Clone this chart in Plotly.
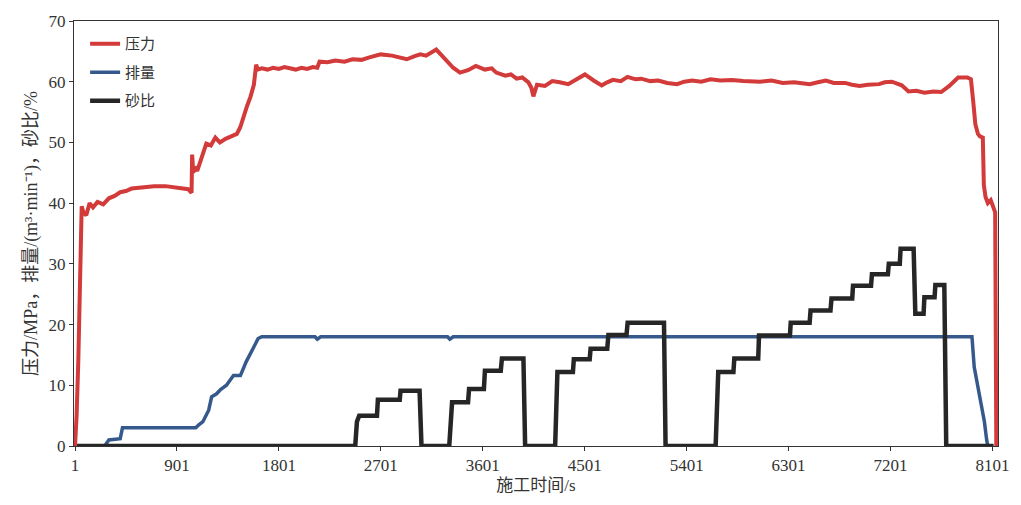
import plotly.graph_objects as go

# ---- data ----
pressure_t = [1, 15, 30, 45, 60, 75, 100, 130, 160, 200, 250, 300, 350, 400, 450, 500, 600, 700, 800, 900,
              1000, 1030, 1035, 1045, 1060, 1080, 1100, 1130, 1160, 1200, 1240, 1280, 1330, 1380, 1430, 1460,
              1490, 1520, 1550, 1580, 1600, 1615, 1650, 1700, 1750, 1800, 1850, 1900, 1950, 2000, 2050, 2100,
              2140, 2160, 2230, 2300, 2380, 2450, 2530, 2600, 2700, 2800, 2870, 2930, 3000, 3050, 3100, 3150,
              3190, 3230, 3280, 3340, 3400, 3470, 3540, 3620, 3680, 3720, 3800, 3850, 3900, 3950, 4004, 4030,
              4048, 4080, 4150, 4215, 4280, 4355, 4430, 4503, 4580, 4651, 4700, 4750, 4820, 4879, 4950, 5000,
              5080, 5150, 5230, 5316, 5380, 5450, 5530, 5612, 5700, 5800, 5900, 6050, 6150, 6250, 6350, 6487,
              6560, 6631, 6700, 6800, 6860, 6928, 7000, 7100, 7150, 7213, 7300, 7360, 7430, 7500, 7580, 7649,
              7720, 7798, 7880, 7911, 7930, 7950, 7973, 7990, 8016, 8025, 8040, 8060, 8086, 8110, 8125, 8135]
pressure_v = [0, 5, 14, 28, 39.5, 38.5, 38, 40, 39.3, 40.2, 39.8, 40.8, 41.2, 41.8, 42, 42.4, 42.6, 42.8, 42.8, 42.6,
              42.3, 41.7, 48, 45, 46, 45.3, 46.5, 48.5, 49.8, 49.5, 50.8, 50, 50.6, 51, 51.4, 52.5,
              54.5, 56, 57.5, 59.5, 62.8, 62, 62.2, 62.0, 62.3, 62.1, 62.4, 62.2, 62.0, 62.3, 62.1, 62.4,
              62.3, 63.3, 63.2, 63.5, 63.3, 63.7, 63.6, 64, 64.5, 64.3, 63.9, 63.7, 64.2, 64.5, 64.3, 64.9,
              65.3, 64.5, 63.4, 62.3, 61.5, 61.9, 62.6, 62, 62.2, 61.5, 61, 61.2, 60.5, 60.7, 59.9, 59,
              57.6, 59.5, 59.3, 60.1, 59.9, 59.6, 60.4, 61.2, 60.2, 59.4, 59.9, 60.3, 60.1, 60.8, 60.4, 60.5,
              60.1, 60.2, 59.8, 59.6, 60.0, 60.2, 60.0, 60.4, 60.2, 60.3, 60.1, 60.0, 60.2, 59.8, 59.9, 59.6,
              59.9, 60.2, 59.8, 59.8, 59.5, 59.3, 59.5, 59.6, 59.9, 60, 59.4, 58.4, 58.5, 58.2, 58.4, 58.3,
              59.3, 60.7, 60.7, 60.4, 57, 53, 51.4, 51, 50.8, 43, 41, 40, 40.5, 39, 38.5, 0]

rate_t = [1, 263, 300, 400, 420, 1067, 1094, 1130, 1181, 1207, 1251, 1286, 1338, 1400, 1461, 1513, 1574,
          1618, 1650, 2120, 2140, 2170, 3290, 3310, 3340, 7920, 7940, 7982, 8030, 8050, 8060, 8110]
rate_v = [0, 0, 1, 1.2, 3, 3, 3.5, 4, 5.9, 8.1, 8.6, 9.3, 10, 11.6, 11.6, 13.9, 16.1,
          17.7, 18, 18, 17.6, 18, 18, 17.6, 18, 18, 13, 8.7, 4, 1, 0, 0]

sand_t = [1, 2475, 2490, 2510, 2667, 2675, 2868, 2875, 3043, 3060, 3305, 3330, 3471, 3480, 3611, 3620, 3760,
          3770, 3960, 3975, 4240, 4260, 4397, 4405, 4545, 4553, 4700, 4710, 4870, 4880, 5201, 5215, 5657,
          5680, 5814, 5822, 6033, 6040, 6313, 6320, 6487, 6495, 6671, 6680, 6863, 6870, 7029, 7037, 7178,
          7186, 7283, 7290, 7405, 7420, 7493, 7500, 7590, 7597, 7676, 7693, 8110]
sand_v = [0, 0, 4, 5, 5, 7.6, 7.6, 9.1, 9.1, 0, 0, 7.2, 7.2, 9.4, 9.4, 12.4, 12.4,
          14.4, 14.4, 0, 0, 12.2, 12.2, 14.3, 14.3, 16.0, 16.0, 18.3, 18.3, 20.3, 20.3, 0, 0,
          12.2, 12.2, 14.4, 14.4, 18.2, 18.2, 20.3, 20.3, 22.3, 22.3, 24.3, 24.3, 26.4, 26.4, 28.3, 28.3,
          30.0, 30.0, 32.5, 32.5, 21.8, 21.8, 24.5, 24.5, 26.5, 26.5, 0, 0]

x_ticks = [1, 901, 1801, 2701, 3601, 4501, 5401, 6301, 7201, 8101]
y_ticks = [0, 10, 20, 30, 40, 50, 60, 70]

names = ["压力", "排量", "砂比"]
colors = ["#d33a3a", "#36598c", "#262626"]

serif = "Liberation Serif, Noto Sans CJK SC"
cjk = "Noto Sans CJK SC"

fig = go.Figure()
fig.add_trace(go.Scatter(x=rate_t, y=rate_v, mode="lines", name=names[1], legendrank=2,
                         legendgroup="b", line=dict(color=colors[1], width=3.5)))
fig.add_trace(go.Scatter(x=sand_t, y=sand_v, mode="lines", name=names[2], legendrank=3,
                         legendgroup="c", line=dict(color=colors[2], width=4.5)))
fig.add_trace(go.Scatter(x=pressure_t, y=pressure_v, mode="lines", name=names[0], legendrank=1,
                         legendgroup="a", line=dict(color=colors[0], width=4)))

fig.update_layout(
    width=1021, height=505,
    margin=dict(l=74, r=14, t=20, b=59),
    paper_bgcolor="white", plot_bgcolor="white",
    showlegend=True,
    legend=dict(x=0.012, y=0.985, xanchor="left", yanchor="top",
                font=dict(family=cjk, size=15, color="#333333"),
                bgcolor="rgba(0,0,0,0)", tracegroupgap=6, traceorder="grouped"),
    xaxis=dict(range=[-8, 8150], tickvals=x_ticks, ticktext=[str(v) for v in x_ticks],
               showgrid=False, zeroline=False, showline=True, linecolor="#333333", linewidth=1,
               mirror=True, ticks="outside", ticklen=4, tickcolor="#333333",
               tickfont=dict(family=serif, size=17, color="#333333"),
               title=dict(text="施工时间/s", font=dict(family=serif, size=17, color="#333333"), standoff=4)),
    yaxis=dict(range=[0, 70], tickvals=y_ticks, showgrid=False, zeroline=False, showline=True,
               linecolor="#333333", linewidth=1, mirror=True, ticks="outside", ticklen=4,
               tickcolor="#333333", tickfont=dict(family=serif, size=17, color="#333333"),
               title=dict(text="压力/MPa，排量/(m³·min⁻¹)，砂比/%",
                          font=dict(family=serif, size=18, color="#333333"), standoff=6)),
)

fig.write_html("out.html")
